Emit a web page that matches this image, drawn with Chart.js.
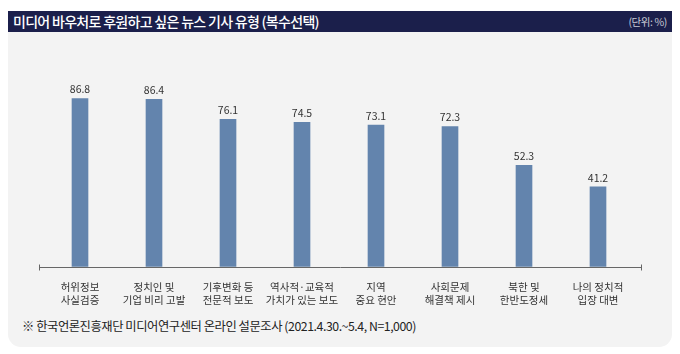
<!DOCTYPE html>
<html>
<head>
<meta charset="utf-8">
<script src="https://cdn.jsdelivr.net/npm/chart.js@4.4.1/dist/chart.umd.min.js"></script>
<style>
  html, body { margin: 0; padding: 0; background: #fff; }
  body { width: 680px; height: 354px; position: relative; overflow: hidden; font-family: "Noto Sans CJK KR", "Noto Sans", sans-serif; }
  #head {
    position: absolute; left: 8px; top: 11px; width: 664px; height: 21px;
    background: #1b1f4b; color: #fff;
  }
  #title { position: absolute; left: 5px; top: 1px; font-size: 14px; letter-spacing: -0.7px; font-weight: 500; line-height: 19px; }
  #unit { position: absolute; right: 5px; top: 2px; font-size: 10.5px; color: #c9cbd6; letter-spacing: -0.4px; line-height: 18px; }
  #panel {
    position: absolute; left: 8px; top: 32px; width: 664px; height: 315px;
    background: #f3f3f3; border-radius: 0 0 13px 13px;
  }
  #wrap { position: absolute; left: 0; top: 0; width: 664px; height: 283px; }
  #note { position: absolute; left: 14px; top: 285px; font-size: 12.3px; color: #222; letter-spacing: -0.45px; }
</style>
</head>
<body>
<div id="head">
  <div id="title">미디어 바우처로 후원하고 싶은 뉴스 기사 유형 (복수선택)</div>
  <div id="unit">(단위: %)</div>
</div>
<div id="panel">
  <div id="wrap"><canvas id="chart"></canvas></div>
  <div id="note">※ 한국언론진흥재단 미디어연구센터 온라인 설문조사 (2021.4.30.~5.4, N=1,000)</div>
</div>
<script>
var categories = [
  ['허위정보', '사실검증'],
  ['정치인 및', '기업 비리 고발'],
  ['기후변화 등', '전문적 보도'],
  ['역사적·교육적', '가치가 있는 보도'],
  ['지역', '중요 현안'],
  ['사회문제', '해결책 제시'],
  ['북한 및', '한반도정세'],
  ['나의 정치적', '입장 대변']
];
var values = [86.8, 86.4, 76.1, 74.5, 73.1, 72.3, 52.3, 41.2];

const barColor = '#6384ad';

// value labels above each bar
var valueLabels = {
  id: 'valueLabels',
  afterDatasetsDraw: function (chart) {
    var ctx = chart.ctx;
    var meta = chart.getDatasetMeta(0);
    ctx.save();
    ctx.font = '10.5px "Noto Sans CJK KR", "Noto Sans", sans-serif';
    ctx.fillStyle = '#333';
    ctx.textAlign = 'center';
    ctx.textBaseline = 'bottom';
    meta.data.forEach(function (bar, i) {
      ctx.fillText(values[i].toFixed(1), bar.x, bar.y - 4);
    });
    ctx.restore();
  }
};

// baseline with small end caps, a bit wider than the plot area
var baseLine = {
  id: 'baseLine',
  afterDatasetsDraw: function (chart) {
    var ctx = chart.ctx;
    var area = chart.chartArea;
    var y = Math.round(chart.scales.y.getPixelForValue(0)) + 0.5;
    var x0 = area.left - 4, x1 = area.right + 7;
    ctx.save();
    ctx.strokeStyle = '#666';
    ctx.lineWidth = 1;
    ctx.beginPath();
    ctx.moveTo(x0, y); ctx.lineTo(x1, y);
    ctx.moveTo(x0 + 0.5, y - 3); ctx.lineTo(x0 + 0.5, y + 3);
    ctx.moveTo(x1 - 0.5, y - 3); ctx.lineTo(x1 - 0.5, y + 3);
    ctx.stroke();
    ctx.restore();
  }
};

new Chart(document.getElementById('chart'), {
  type: 'bar',
  data: {
    labels: categories,
    datasets: [{
      data: values,
      backgroundColor: barColor,
      barThickness: 16
    }]
  },
  options: {
    responsive: true,
    maintainAspectRatio: false,
    animation: false,
    layout: { padding: { left: 35, right: 37, top: 41, bottom: 2 } },
    plugins: { legend: { display: false }, tooltip: { enabled: false } },
    scales: {
      x: {
        grid: { display: false },
        border: { display: false },
        ticks: {
          color: '#333',
          padding: 6,
          maxRotation: 0,
          autoSkip: false,
          font: { family: '"Noto Sans CJK KR", "Noto Sans", sans-serif', size: 10.5, lineHeight: 1.25 }
        }
      },
      y: {
        display: false,
        min: 0,
        max: 100
      }
    }
  },
  plugins: [valueLabels, baseLine]
});
</script>
</body>
</html>
